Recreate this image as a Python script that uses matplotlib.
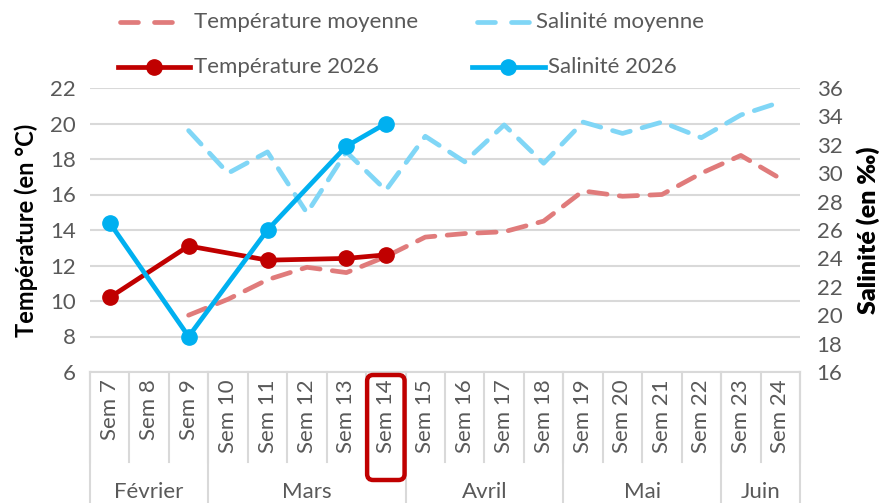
import matplotlib
matplotlib.use("Agg")
import matplotlib.pyplot as plt
from matplotlib.transforms import blended_transform_factory
from matplotlib.patches import FancyBboxPatch
from matplotlib.lines import Line2D
import numpy as np

plt.rcParams['font.family'] = ['Lato', 'DejaVu Sans']

weeks = ["Sem 7", "Sem 8", "Sem 9", "Sem 10", "Sem 11", "Sem 12", "Sem 13", "Sem 14",
         "Sem 15", "Sem 16", "Sem 17", "Sem 18", "Sem 19", "Sem 20", "Sem 21", "Sem 22",
         "Sem 23", "Sem 24"]
months = ["Février", "Mars", "Avril", "Mai", "Juin"]
month_counts = [3, 5, 4, 4, 2]
highlight_week = "Sem 14"

nan = np.nan
temp_moy = [nan, nan, 9.2, 10.1, 11.2, 11.9, 11.6, 12.5, 13.6, 13.8, 13.9, 14.5,
            16.2, 15.9, 16.0, 17.2, 18.2, 16.9]
sal_moy = [nan, nan, 33.0, 30.0, 31.5, 27.2, 31.5, 28.8, 32.6, 30.8, 33.4, 30.7,
           33.6, 32.8, 33.6, 32.5, 34.1, 35.0]
temp_2026 = [10.2, nan, 13.1, nan, 12.3, nan, 12.4, 12.6] + [nan] * 10
sal_2026 = [26.5, nan, 18.5, nan, 26.0, nan, 31.9, 33.5] + [nan] * 10

labels = ["Température moyenne", "Salinité moyenne", "Température 2026", "Salinité 2026"]

C_TM = '#E07B7B'
C_SM = '#80D6F6'
C_T = '#C00000'
C_S = '#00B0F0'

W, H = 882, 503
fig = plt.figure(figsize=(W / 100, H / 100), dpi=100)
L, R, T, B = 90, 800, 88, 372
ax = fig.add_axes([L / W, (H - B) / H, (R - L) / W, (B - T) / H])
ax2 = ax.twinx()

x = np.arange(len(weeks))
GRAY = '#595959'
GRID = '#d9d9d9'

def series(vals):
    v = np.array(vals, dtype=float)
    m = ~np.isnan(v)
    return x[m], v[m]

LW = 3.4
DASH = (3.9, 2.6)
xs, ys = series(temp_moy)
ax.plot(xs, ys, color=C_TM, lw=LW, dashes=DASH, dash_capstyle='round', zorder=3)
xs, ys = series(temp_2026)
ax.plot(xs, ys, color=C_T, lw=LW, marker='o', ms=11, zorder=4)
xs, ys = series(sal_moy)
ax2.plot(xs, ys, color=C_SM, lw=LW, dashes=DASH, dash_capstyle='round', zorder=3)
xs, ys = series(sal_2026)
ax2.plot(xs, ys, color=C_S, lw=LW, marker='o', ms=11, zorder=4)

ax.set_xlim(-0.5, len(weeks) - 0.5)
ax.set_ylim(6, 22)
ax.set_yticks(np.arange(6, 23, 2))
ax2.set_ylim(16, 36)
ax2.set_yticks(np.arange(16, 37, 2))

ax.yaxis.grid(True, color=GRID, lw=1.5)
ax.set_axisbelow(True)
for a in (ax, ax2):
    for s in a.spines.values():
        s.set_visible(False)
ax.spines['bottom'].set_visible(True)
ax.spines['bottom'].set_color(GRID)
ax.spines['bottom'].set_linewidth(1.5)

fs = 16
fl = 17
ax.tick_params(axis='y', length=0, labelsize=fs, labelcolor=GRAY, pad=10)
ax2.tick_params(axis='y', length=0, labelsize=fs, labelcolor=GRAY, pad=12)
ax.set_xticks(x)
ax.set_xticklabels(weeks, rotation=90, fontsize=fs, color=GRAY)
ax.tick_params(axis='x', length=0, pad=5)

ax.set_ylabel("Température (en °C)", fontsize=fl, fontweight='bold', color='black', labelpad=9)
ax2.set_ylabel("Salinité (en ‰)", fontsize=fl + 1, fontweight='heavy', color='black',
               labelpad=10, family=['Lato', 'DejaVu Sans'])

trans = blended_transform_factory(ax.transData, ax.transAxes)
h_px = B - T
y_cat = -(462 - B) / h_px
y_bot = -(H - B) / h_px
y_month = -(492 - B) / h_px

# category separators
for i in range(len(weeks) + 1):
    ax.plot([i - 0.5, i - 0.5], [0, y_cat], transform=trans, color=GRID, lw=1.5, clip_on=False)
# month separators and labels
pos = -0.5
ax.plot([pos, pos], [0, y_bot], transform=trans, color=GRID, lw=1.5, clip_on=False)
for mname, cnt in zip(months, month_counts):
    ax.text(pos + cnt / 2, y_month, mname, transform=trans, ha='center', va='center',
            fontsize=fs, color=GRAY)
    pos += cnt
    ax.plot([pos, pos], [0, y_bot], transform=trans, color=GRID, lw=1.5, clip_on=False)

# highlight box around Sem 14
hi = weeks.index(highlight_week)
p0 = ax.transData.transform((hi - 0.5, 0))
p1 = ax.transData.transform((hi + 0.5, 0))
x0 = p0[0] + 1
x1 = p1[0] - 1
y_top = H - 375
y_low = H - 480
rad = 6
box = FancyBboxPatch((x0 + rad, y_low + rad), (x1 - x0) - 2 * rad, (y_top - y_low) - 2 * rad,
                     boxstyle=f"round,pad={rad}", transform=None, fill=False,
                     edgecolor=C_T, lw=3.2, zorder=10, clip_on=False)
fig.patches.append(box)

# legend drawn manually (pixel positions)
def px(xp, yp):
    return xp / W, 1 - yp / H

entries = [
    (labels[0], C_TM, True, 120, 175, 194, 22),
    (labels[1], C_SM, True, 477, 533, 536, 22),
    (labels[2], C_T, False, 118, 190, 194, 67),
    (labels[3], C_S, False, 472, 545, 548, 67),
]
for lab, col, dashed, xa, xb, xt, yy in entries:
    (fx0, fy), (fx1, _) = px(xa, yy), px(xb, yy)
    if dashed:
        ln = Line2D([fx0, fx1], [fy, fy], transform=fig.transFigure, color=col, lw=LW,
                    dashes=(3.8, 3.4), dash_capstyle='round')
        fig.add_artist(ln)
    else:
        ln = Line2D([fx0, fx1], [fy, fy], transform=fig.transFigure, color=col, lw=LW)
        fig.add_artist(ln)
        mk = Line2D([(fx0 + fx1) / 2], [fy], transform=fig.transFigure, color=col,
                    marker='o', ms=11, lw=0)
        fig.add_artist(mk)
    tx, ty = px(xt, yy)
    fig.text(tx, ty, lab, ha='left', va='center', fontsize=fs, color=GRAY)

fig.savefig("out.png", dpi=100)
